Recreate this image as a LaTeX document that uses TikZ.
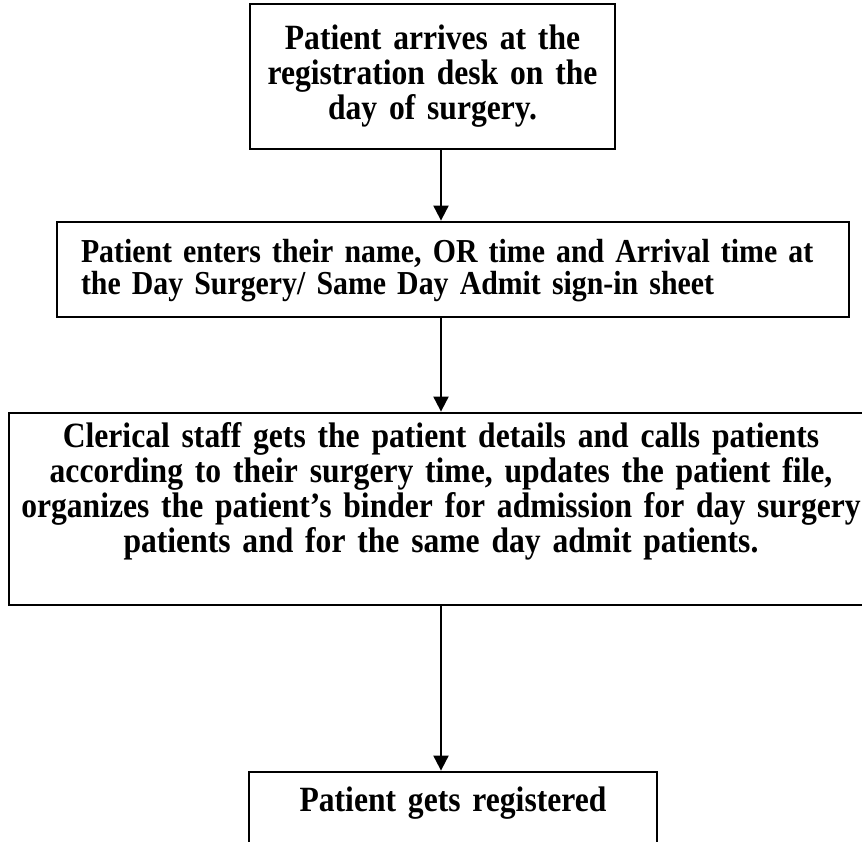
\documentclass[tikz,border=0pt]{standalone}
\usepackage{fontspec}
\setmainfont{Liberation Serif}[FakeStretch=0.89]
\usetikzlibrary{arrows.meta}

\begin{document}
\begin{tikzpicture}[x=1pt, y=-1pt,
    box/.style={draw, line width=2.8pt, inner xsep=12pt, inner ysep=0pt, anchor=base,
      align=center, font=\bfseries\fontsize{35.5}{35}\selectfont},
    flow/.style={line width=2pt, -{Triangle[length=15pt,width=15pt]}}]
  \useasboundingbox (0,0) rectangle (862,842);
  \clip (0,0) rectangle (862,842);

  \node[box, text width=341pt, text height=46pt, text depth=99pt] (arrive) at (432.5,50)
    {Patient arrives at the\\ registration desk on the\\ day of surgery.};

  \node[box, align=left, inner xsep=24pt, text width=744pt, text height=41pt, text depth=54pt,
    font=\bfseries\fontsize{33.5}{32}\selectfont] (signin) at (453,263)
    {Patient enters their name, OR time and Arrival time at\\ the Day Surgery/ Same Day Admit sign-in sheet};

  \node[box, inner xsep=4pt, text width=856pt, text height=34pt, text depth=158pt] (clerk) at (441,447)
    {Clerical staff gets the patient details and calls patients\\
     according to their surgery time, updates the patient file,\\
     organizes the patient’s binder for admission for day surgery\\
     patients and for the same day admit patients.};

  \node[box, text width=384pt, text height=39pt, text depth=88pt] (registered) at (453,811)
    {Patient gets registered};

  \draw[flow] (arrive.south -| clerk.north) -- (signin.north -| clerk.north);
  \draw[flow] (signin.south -| clerk.north) -- (clerk.north);
  \draw[flow] (clerk.south) -- (registered.north -| clerk.south);
\end{tikzpicture}
\end{document}
